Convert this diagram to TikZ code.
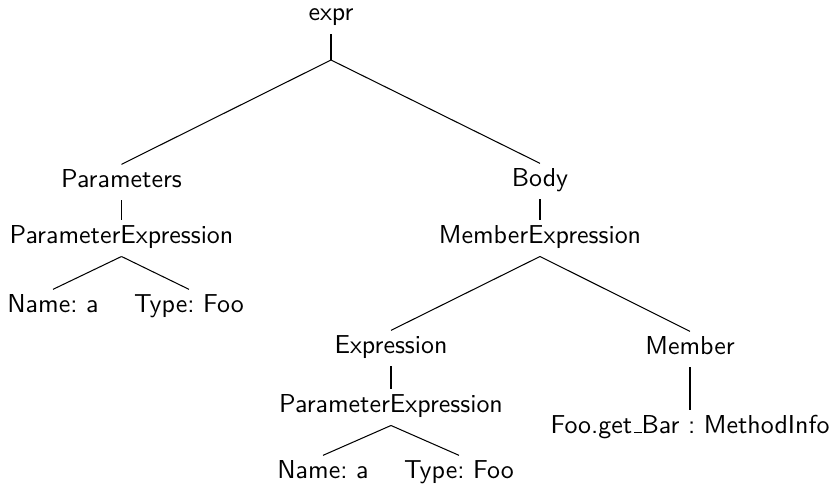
\documentclass[tikz,border=0pt]{standalone}
\newcommand\myusc{\leavevmode\kern.06em\vbox{\hrule width .3em}}
\frenchspacing
\begin{document}
\begin{tikzpicture}[x=0.3857pt,y=-0.3857pt,
  tn/.style={anchor=base,font=\sffamily,inner xsep=0pt,inner ysep=1.6pt,text height=6.94pt,text depth=3.4pt},
  edge/.style={line width=0.4pt}]
\useasboundingbox (0,0) rectangle (835,484);
\node[tn] (expr) at (331,21) {expr};
\coordinate (j0) at (331,60);
\node[tn] (par) at (121.5,187) {Parameters};
\node[tn] (pe1) at (121.5,243) {ParameterExpression};
\node[tn] (n1) at (53,312) {Name: a};
\node[tn] (t1) at (189,312) {Type: Foo};
\node[tn] (body) at (540,186) {Body};
\node[tn] (me) at (540,243) {MemberExpression};
\node[tn] (ex) at (391,353) {Expression};
\node[tn] (mem) at (690,354) {Member};
\node[tn] (pe2) at (391,412) {ParameterExpression};
\node[tn] (n2) at (323,478) {Name: a};
\node[tn] (t2) at (459,478) {Type: Foo};
\node[tn] (foo) at (690,433) {Foo.get\myusc Bar : MethodInfo};
\draw[edge] (expr.south) -- (j0);
\draw[edge] (j0) -- (par.north);
\draw[edge] (j0) -- (body.north);
\draw[edge] (par.south) -- (pe1.north);
\draw[edge] (pe1.south) -- (n1.north);
\draw[edge] (pe1.south) -- (t1.north);
\draw[edge] (body.south) -- (me.north);
\draw[edge] (me.south) -- (ex.north);
\draw[edge] (me.south) -- (mem.north);
\draw[edge] (ex.south) -- (pe2.north);
\draw[edge] (pe2.south) -- (n2.north);
\draw[edge] (pe2.south) -- (t2.north);
\draw[edge] (mem.south) -- (foo.north);
\end{tikzpicture}
\end{document}
